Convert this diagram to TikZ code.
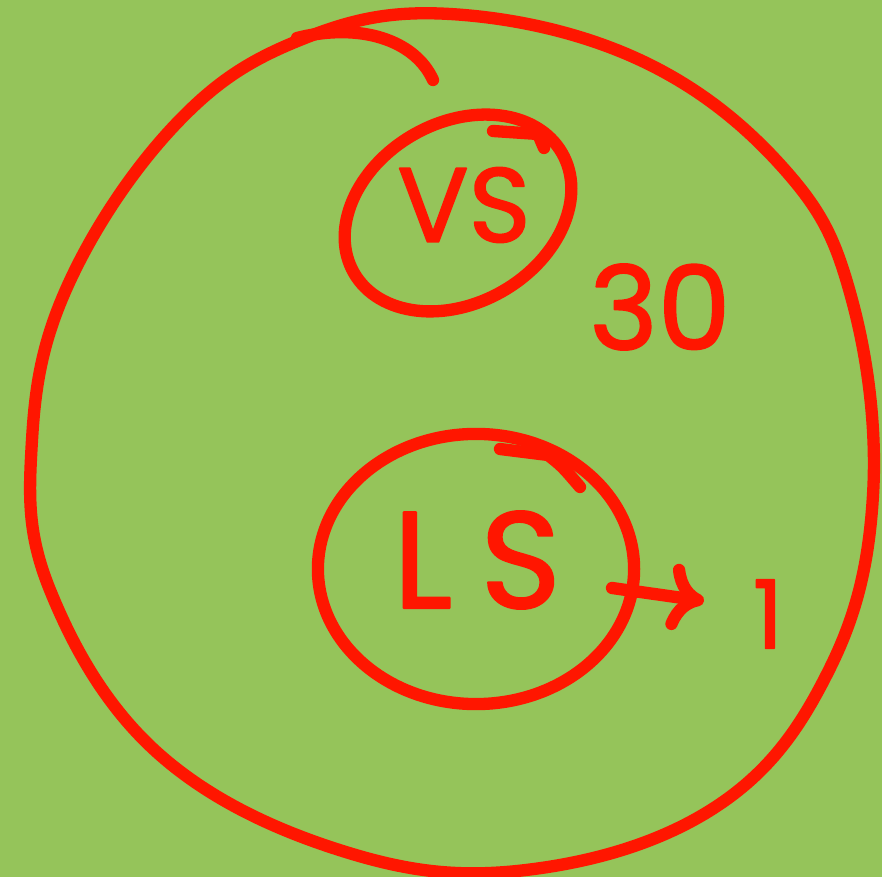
\documentclass[tikz,border=0pt]{standalone}
\usepackage{fontspec}
\setmainfont{Poppins}
\newfontfamily\handfont[FakeBold=1.6]{Poppins}
\usetikzlibrary{shapes.geometric,arrows.meta}
\definecolor{pen}{RGB}{255,22,0}
\definecolor{board}{RGB}{149,196,90}

\begin{document}
\begin{tikzpicture}[x=0.01cm, y=-0.01cm, line cap=round, line join=round, ink/.style={draw=pen,line width=3.5pt}, ring/.style={ink,ellipse,inner sep=0pt}, hand/.style={text=pen,inner sep=0pt}, arr/.style={ink,-{To[length=10pt,width=19pt]}}]
% board
\fill[board] (0,0) rectangle (882,877);
\useasboundingbox (0,0) rectangle (882,877);
% outer loop and the hook at its top
\draw[ink] plot[smooth cycle, tension=0.65] coordinates {(450,14) (640,60) (785,170) (852,300) (873,495) (830,668) (720,804) (534,869) (349,853) (160,755) (50,590) (32,440) (68,285) (175,125) (300,40)};
\draw[ink] (297,38) .. controls (360,22) and (415,40) .. (433,80);
% VS ring, label 30
\node[ring, rotate=30, minimum width=2.4cm, minimum height=1.8cm] (vsring) at (458,213) {};
\draw[ink] (493,131) -- (538,134) -- (544,148);
\node[hand, font=\handfont\fontsize{30}{30}\selectfont] (vs) at (464,205) {VS};
\node[hand, font=\handfont\fontsize{33}{33}\selectfont] (thirty) at (660,307) {30};
% LS ring, arrow to 1
\node[ring, minimum width=3.16cm, minimum height=2.7cm] (ls) at (476,569) {};
\draw[ink] (500,449) -- (548,455) .. controls (562,466) .. (580,487);
\node[hand, font=\handfont\fontsize{39}{39}\selectfont] (lsl) at (477,560) {L\kern8pt S};
\node[hand, font=\handfont\fontsize{27}{27}\selectfont] (one) at (768,614) {1};
\coordinate (a0) at (612,588); \coordinate (a1) at (704,601);
\draw[arr] (a0) -- (a1);
\end{tikzpicture}
\end{document}
